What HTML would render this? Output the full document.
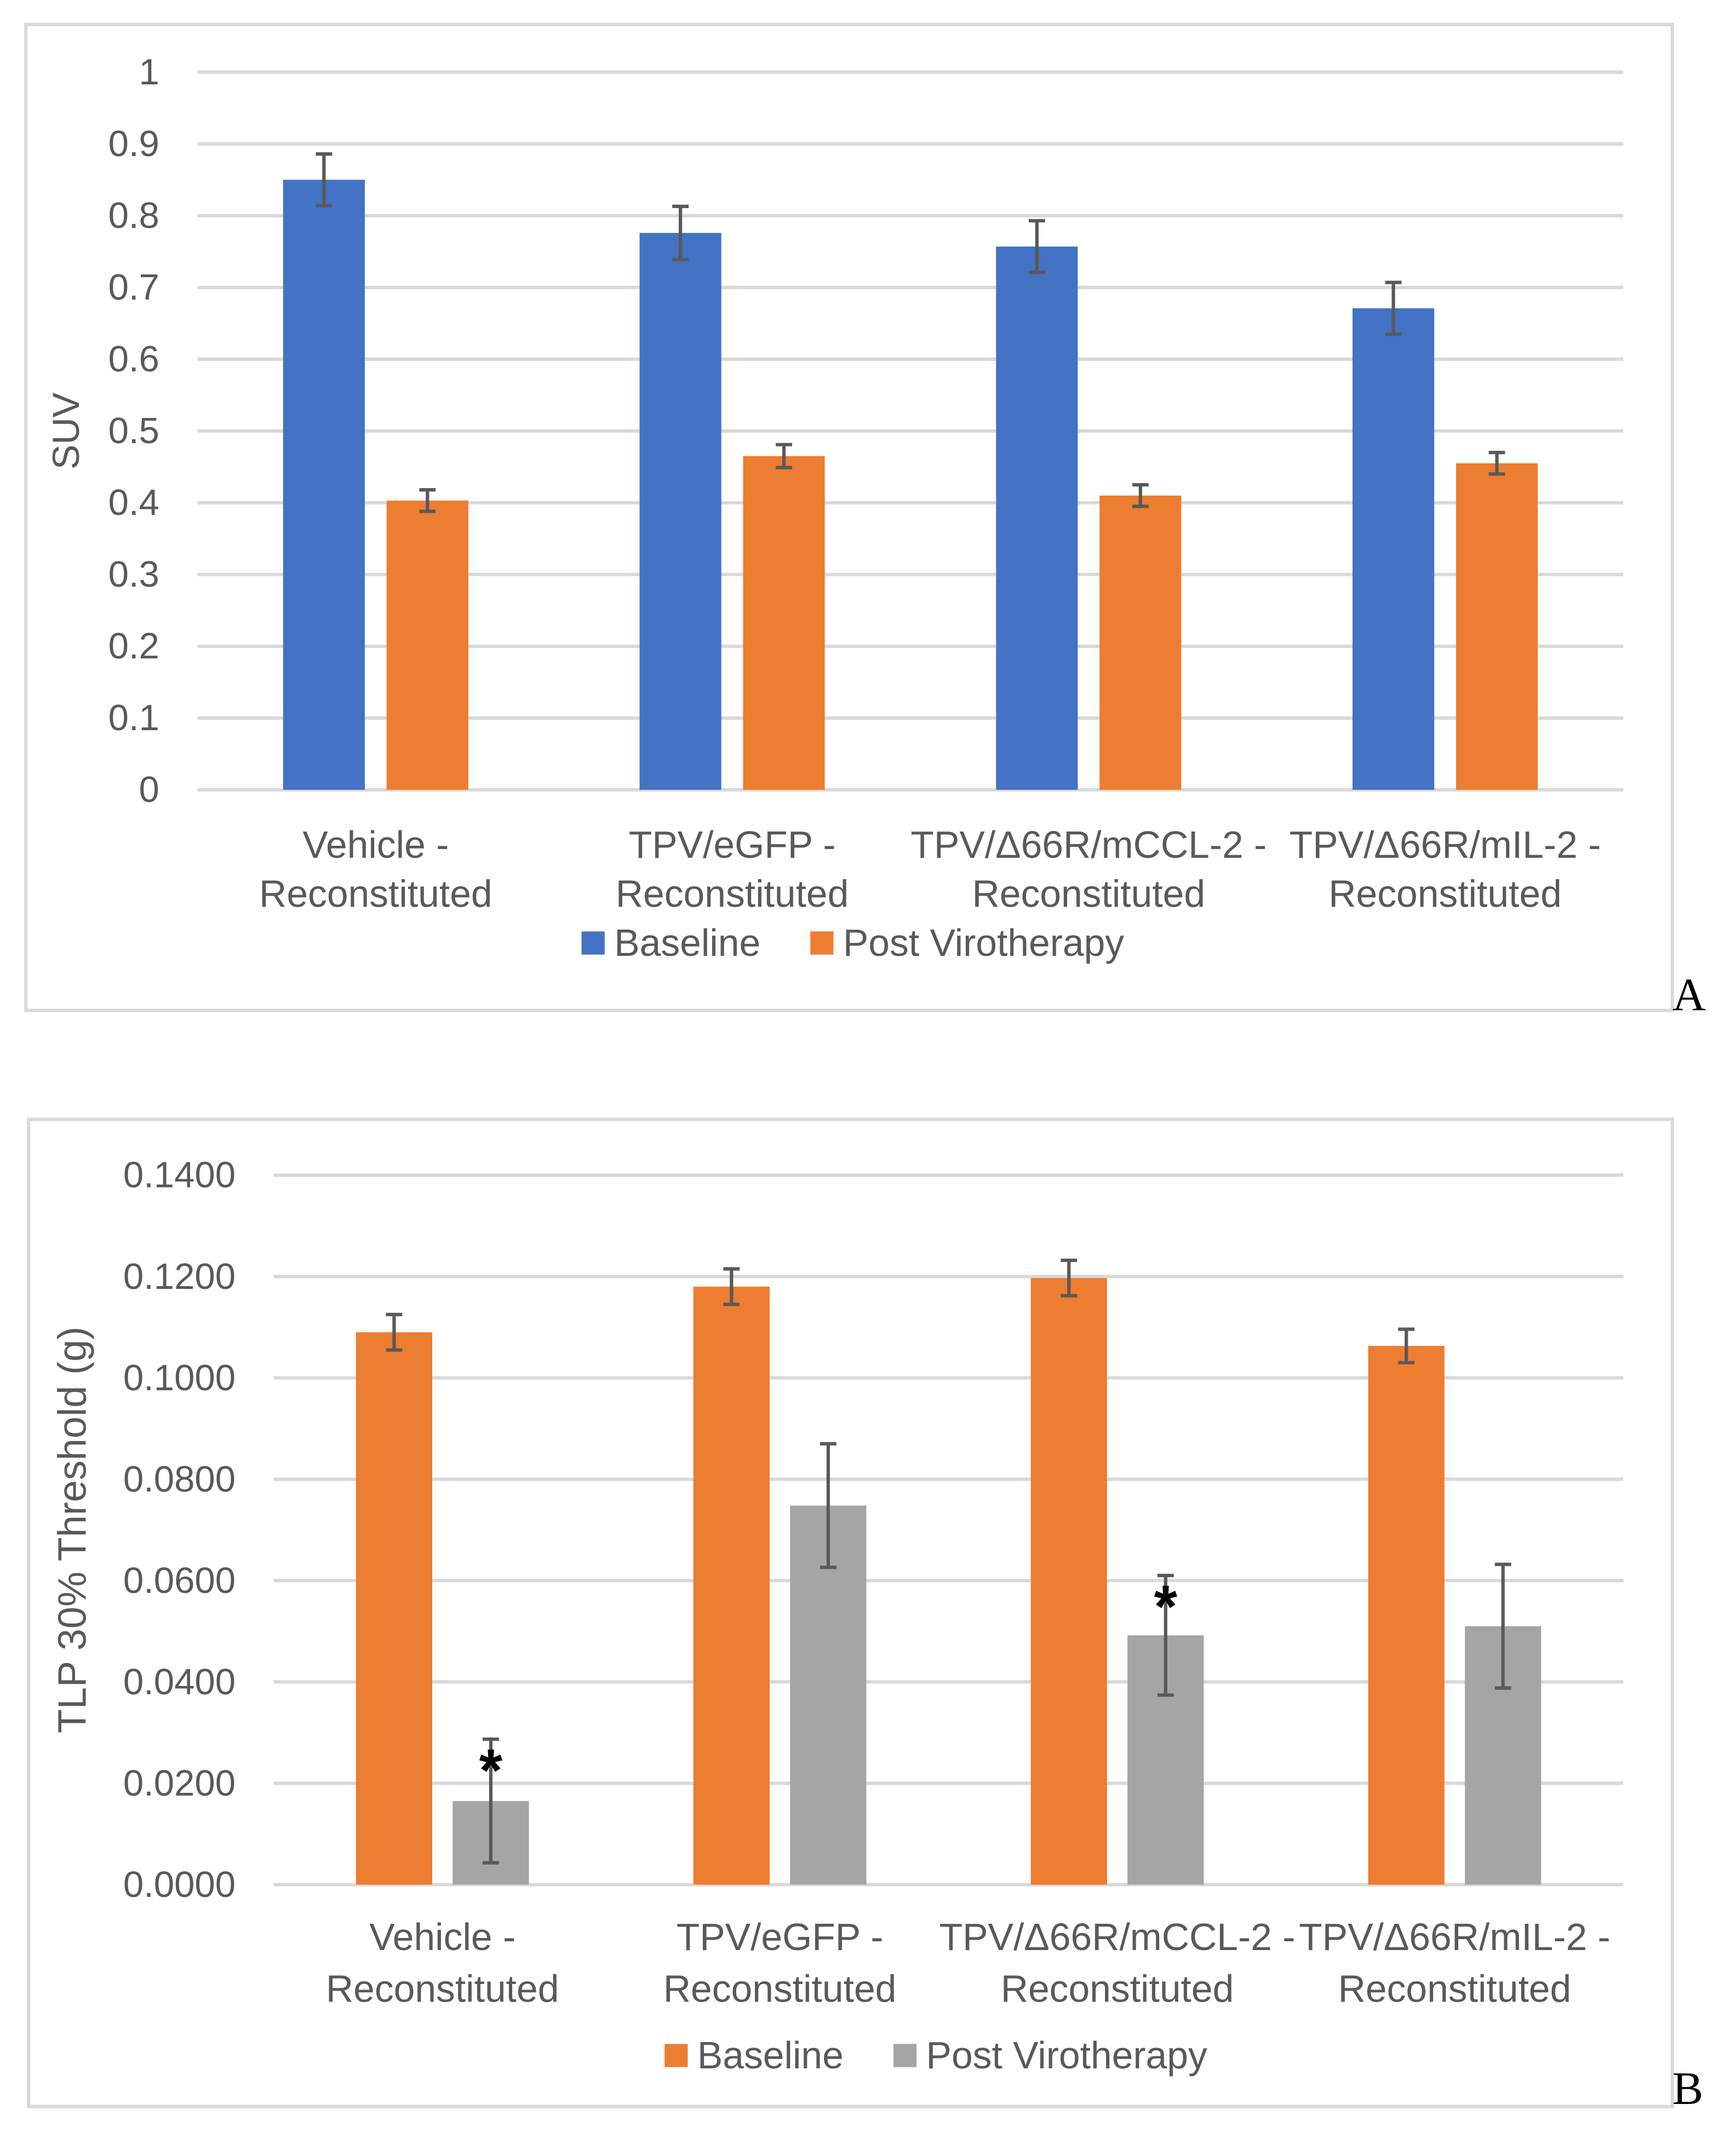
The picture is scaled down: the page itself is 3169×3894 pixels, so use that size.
<!DOCTYPE html>
<html><head><meta charset="utf-8"><style>
html,body{margin:0;padding:0;background:#fff}
svg{display:block}
text{font-family:"Liberation Sans","DejaVu Sans",sans-serif;fill:#595959}
</style></head><body>
<svg id="fig" width="3169" height="3894" viewBox="0 0 1274.7 1566.4" preserveAspectRatio="none" xmlns="http://www.w3.org/2000/svg">
<rect x="0" y="0" width="1274.7" height="1566.4" fill="#fff"/>
<rect x="19" y="18" width="1209" height="724" fill="none" stroke="#d9d9d9" stroke-width="2.5"/>
<rect x="21" y="822" width="1207" height="725" fill="none" stroke="#d9d9d9" stroke-width="2.5"/>
<text x="1228" y="742" style="font-family:'Liberation Serif',serif;font-size:34px;fill:#000">A</text>
<text x="1228" y="1545" style="font-family:'Liberation Serif',serif;font-size:34px;fill:#000">B</text>
<g id="ga"></g>
<g id="gb"></g>
</svg>
<script>
const categories = ["Vehicle -|Reconstituted","TPV/eGFP -|Reconstituted","TPV/Δ66R/mCCL-2 -|Reconstituted","TPV/Δ66R/mIL-2 -|Reconstituted"];
const aBaseline = [0.85, 0.776, 0.757, 0.671];
const aBaselineErr = [0.036, 0.037, 0.036, 0.036];
const aPost = [0.403, 0.465, 0.41, 0.455];
const aPostErr = [0.015, 0.016, 0.015, 0.015];
const aTicks = ["0","0.1","0.2","0.3","0.4","0.5","0.6","0.7","0.8","0.9","1"];
const bBaseline = [0.109, 0.118, 0.1197, 0.1063];
const bBaselineErr = [0.0035, 0.0035, 0.0035, 0.0033];
const bPost = [0.0165, 0.0748, 0.0492, 0.051];
const bPostErr = [0.0122, 0.0122, 0.0118, 0.0122];
const bStars = [true, false, true, false];
const bTicks = ["0.0000","0.0200","0.0400","0.0600","0.0800","0.1000","0.1200","0.1400"];

const NS="http://www.w3.org/2000/svg";
function mk(parent,tag,attrs,txt){const e=document.createElementNS(NS,tag);for(const k in attrs)e.setAttribute(k,attrs[k]);if(txt!==undefined)e.textContent=txt;parent.appendChild(e);return e;}

function chart(g,cfg){
  const y=v=>cfg.y0-(v/cfg.max)*(cfg.y0-cfg.y1);
  const gw=(cfg.x1-cfg.x0)/categories.length;
  cfg.ticks.forEach((t,i)=>{
    const v=cfg.max*i/(cfg.ticks.length-1);
    const l=mk(g,'line',{x1:cfg.x0,x2:cfg.x1,y1:y(v),y2:y(v),stroke:'#d9d9d9','stroke-width':2.5});
    
    
    const tx=mk(g,'text',{x:cfg.tickX,y:y(v)+9,'text-anchor':'end','font-size':27},t);
    
    
  });
  const yt=mk(g,'text',{x:0,y:0,'text-anchor':'middle','font-size':cfg.titleSize,transform:`translate(${cfg.titleX},${(cfg.y0+cfg.y1)/2}) rotate(-90)`},cfg.title);
  
  
  categories.forEach((c,i)=>{
    const cx=cfg.x0+gw*(i+0.5)+cfg.shift;
    const series=[[cfg.s1,cfg.e1,cfg.c1,-1],[cfg.s2,cfg.e2,cfg.c2,1]];
    series.forEach(([s,e,col,side],k)=>{
      const bx=side<0?cx-cfg.gap/2-cfg.bw:cx+cfg.gap/2;
      const r=mk(g,'rect',{x:bx,y:y(s[i]),width:cfg.bw,height:y(0)-y(s[i]),fill:col});
      
      
      const mx=bx+cfg.bw/2, hi=y(s[i]+e[i]), lo=y(s[i]-e[i]);
      const eb=mk(g,'path',{d:`M${mx-6},${hi}H${mx+6}M${mx},${hi}V${lo}M${mx-6},${lo}H${mx+6}`,stroke:'#595959','stroke-width':2.5,fill:'none'});
      
      
      if(k===1&&cfg.stars&&cfg.stars[i]){
        const st=mk(g,'text',{x:mx,y:hi+38,'text-anchor':'middle','font-size':44,style:'fill:#000;font-weight:bold'},'*');
        
        
      }
    });
    const parts=c.split('|');
    parts.forEach((p,j)=>{
      const t=mk(g,'text',{x:cx,y:cfg.labY+j*cfg.labGap,'text-anchor':'middle','font-size':28},p);
      
      
    });
  });
  cfg.legend.forEach(([lx,col,label])=>{
    const r=mk(g,'rect',{x:lx,y:cfg.legY-9,width:17,height:17,fill:col});
    
    
    const t=mk(g,'text',{x:lx+24,y:cfg.legY+9,'font-size':28},label);
    
    
  });
}
chart(document.getElementById('ga'),{x0:145,x1:1192,y0:580,y1:53,max:1,ticks:aTicks,tickX:117,title:'SUV',titleX:58,titleSize:27.5,
  s1:aBaseline,e1:aBaselineErr,c1:'#4472c4',s2:aPost,e2:aPostErr,c2:'#ed7d31',bw:60,gap:16,shift:0,
  labY:630,labGap:36,legY:693,legend:[[427,'#4472c4','Baseline'],[595,'#ed7d31','Post Virotherapy']]});
chart(document.getElementById('gb'),{x0:201,x1:1192,y0:1384,y1:863,max:0.14,ticks:bTicks,tickX:173,title:'TLP 30% Threshold (g)',titleX:63,titleSize:29,
  s1:bBaseline,e1:bBaselineErr,c1:'#ed7d31',s2:bPost,e2:bPostErr,c2:'#a5a5a5',stars:bStars,bw:56,gap:15,shift:0,
  labY:1432,labGap:38,legY:1510,legend:[[488,'#ed7d31','Baseline'],[656,'#a5a5a5','Post Virotherapy']]});
</script>
</body></html>
